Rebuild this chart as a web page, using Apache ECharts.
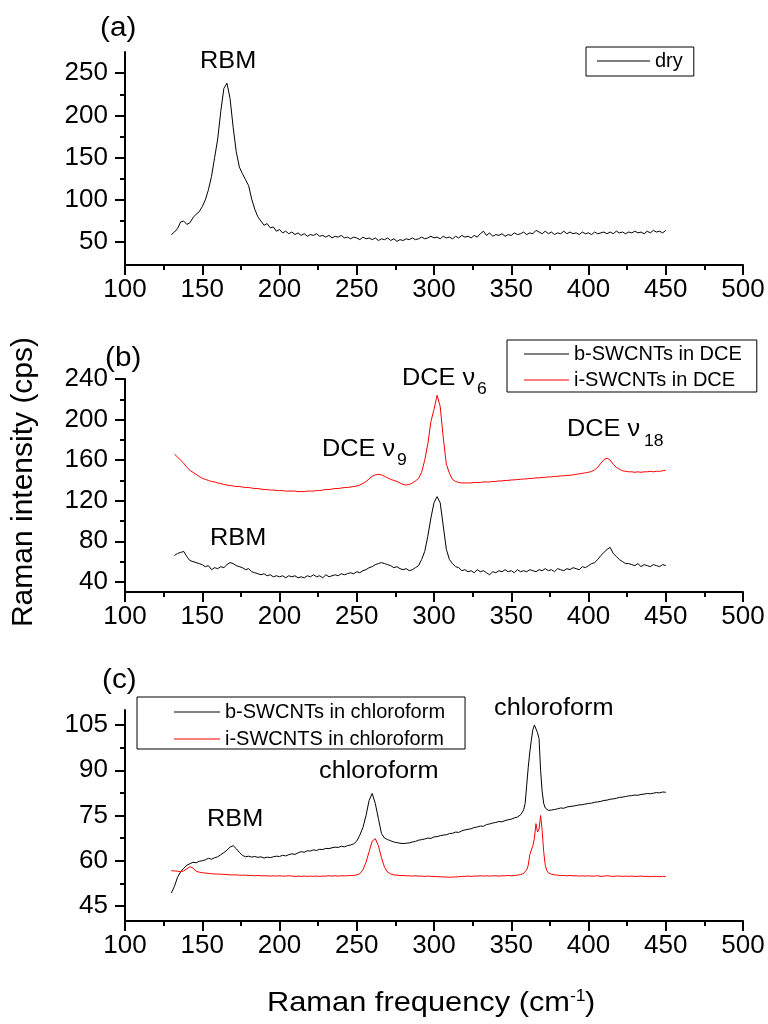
<!DOCTYPE html>
<html><head><meta charset="utf-8">
<script src="https://cdn.jsdelivr.net/npm/echarts@6/dist/echarts.min.js"></script>
<style>html,body{margin:0;padding:0;background:#fff}#chart{width:768px;height:1024px}</style>
</head><body><div id="chart"></div>
<script>
// ---------- DATA ----------
const waveA = [
130,132,134,136,138,140,142,144,146,148,
150,152,154,156,158,160,162,164,166,168,
170,172,174,176,178,180,182,184,186,188,
190,192,194,196,198,200,202,204,206,208,
210,212,214,216,218,220,222,224,226,228,
230,232,234,236,238,240,242,244,246,248,
250,252,254,256,258,260,262,264,266,268,
270,272,274,276,278,280,282,284,286,288,
290,292,294,296,298,300,302,304,306,308,
310,312,314,316,318,320,322,324,326,328,
330,332,334,336,338,340,342,344,346,348,
350,352,354,356,358,360,362,364,366,368,
370,372,374,376,378,380,382,384,386,388,
390,392,394,396,398,400,402,404,406,408,
410,412,414,416,418,420,422,424,426,428,
430,432,434,436,438,440,442,444,446,448,
450];
const dry = [
59,62,66,74,75,71,73,79,83,86,
92,100,112,128,150,172,205,232,238,220,
186,157,139,131,124,117,101,89,80,75,
70,72,67,68,63,65,61,63,60,62,
59,61,58,60,57,59,58,60,57,58,
56,58,55,57,56,58,55,56,54,56,
55,53,56,54,55,53,55,52,54,53,
55,52,54,51,53,52,54,53,55,53,
54,56,54,55,57,55,56,54,57,55,
56,54,57,55,58,56,57,55,58,56,
60,63,58,61,57,59,58,60,57,59,
58,61,59,60,62,59,61,60,64,62,
60,63,60,62,59,61,60,63,60,62,
60,61,59,62,60,61,59,62,60,61,
62,60,62,60,63,61,62,60,62,61,
63,61,62,60,63,61,64,62,63,61,
64];
const bDCE = [
null,66,68,69,70,65,61,60,59,58,
57,55,56,52,54,53,55,54,57,59,
58,56,55,54,52,53,50,49,48,47,
48,46,47,45,46,45,46,44,46,45,
46,44,45,44,46,45,47,45,46,44,
47,45,46,47,46,48,47,48,49,48,
50,49,51,52,54,55,57,58,59,58,
57,56,54,55,53,52,53,51,52,54,
56,62,70,85,103,118,124,118,95,72,
62,58,55,54,51,52,50,51,49,52,
50,51,49,47,50,49,51,50,52,50,
51,49,52,50,51,50,52,51,50,52,
51,53,51,52,50,53,52,51,53,52,
54,53,52,55,54,56,58,59,62,66,
69,72,74,68,65,62,60,58,58,57,
56,58,55,57,56,55,57,56,55,57,
56];
const iDCE = [
null,166,163,160,157,153,150,148,146,144,
142,141,140,139,138.5,137.5,137,136,135.5,135,
134.5,134,134,133.5,133,133,132.5,132,132,131.5,
131,131,130.5,130.5,130,130,130,129.5,129.5,129.5,
129.5,129,129,129,129.5,129.5,129.5,130,130,130.5,
131,131,131.5,132,132,132.5,133,133,133.5,134,
134.5,135.5,137,139,141.5,144,145.5,146,145.5,144,
142.5,141,140,139,137.5,136,135.5,136,137.5,139.5,
142,148,160,176,198,210,224,213,182,156,
147,141,139,138,137.5,137.5,137.5,137.5,138,138,
138,138.5,138.5,138.5,139,139,139.5,139.5,140,140,
140.5,140.5,141,141,141.5,141.5,142,142,142.5,142.5,
143,143,143.5,143.5,144,144,144.5,144.5,145,145,
145.5,146,146.5,147,147.5,148,149,150.5,153,157,
160.5,162,160,156,153,151,149.5,149,148.5,148.5,
148,148.5,148,148.5,148.5,149,148.5,149,149,149.5,
150];
const waveC = [
130,132,134,136,138,140,142,144,146,148,
150,152,154,156,158,160,162,164,166,168,
170,172,174,176,178,180,182,184,186,188,
190,192,194,196,198,200,202,204,206,208,
210,212,214,216,218,220,222,224,226,228,
230,232,234,236,238,240,242,244,246,248,
250,252,254,256,258,260,262,264,266,268,
270,272,274,276,278,280,282,284,286,288,
290,292,294,296,298,300,302,304,306,308,
310,312,314,316,318,320,322,324,326,328,
330,332,334,336,338,340,342,344,346,348,
350,352,354,356,358,
359,360,361,362,363,364,365,366,367,368,369,370,371,372,373,374,375,
376,378,380,382,384,386,388,390,392,394,
396,398,400,402,404,406,408,410,412,414,
416,418,420,422,424,426,428,430,432,434,
436,438,440,442,444,446,448,450];
const bChloro = [
49.3,51.5,54.5,56.3,57.5,58.5,59,59.5,59.3,59.8,
60,60.3,60.8,60.5,61,61.3,62,62.7,63.5,64.5,
65,64,62.8,61.8,61.3,61.5,61.2,61.4,61.1,61.3,
60.9,61.2,61,61.3,61.5,61.4,61.8,61.6,62,62.3,
62.1,62.6,63,62.8,63.3,63.2,63.6,63.4,63.8,63.7,
64.1,64,64.3,64.5,64.4,64.8,64.6,65,65.2,65.6,
66.5,68.5,71,75,80,82.3,79,74,69,67.5,
67,66.6,66.2,66,65.8,65.7,65.8,65.9,66.2,66.4,
66.8,67,67.2,67.5,67.4,67.9,68,68.3,68.5,68.6,
69,69.1,69.5,69.4,69.9,70.2,70.4,70.6,71,71.2,
71.5,71.4,72,72.2,72.5,72.7,73,72.9,73.3,73.6,
73.8,74.2,74.5,75.2,76.8,
79,85,91,96,100,103.5,105,104.5,102.5,100.5,90,83,79,77.5,77,76.7,76.6,
76.8,77,77.2,77.5,77.4,77.8,78,78.1,78.3,78.5,
78.6,78.8,79,79.1,79.4,79.5,79.7,80,80.1,80.4,
80.5,80.7,81,81.1,81.3,81.5,81.6,81.8,81.7,82,
82.1,82.3,82.2,82.4,82.6,82.5,82.8,82.7];
const iChloro = [
56.7,56.6,56.5,56.4,56.6,57.3,58,57.6,56.5,56.2,
56,55.9,55.8,55.7,55.6,55.6,55.5,55.5,55.4,55.3,
55.3,55.3,55.2,55.2,55.2,55.1,55.1,55,55.1,55,
55,55,54.9,55,54.9,55,54.9,54.9,55,54.9,
54.8,54.9,54.8,54.9,54.8,54.9,54.8,54.9,54.8,54.9,
54.9,55,54.9,55,54.9,55,55,55,55.1,55.1,
55.3,55.7,57,59.5,63,66.5,67.3,65,61,57.8,
56.2,55.6,55.3,55.2,55.1,55.1,55,55,54.9,55,
54.9,54.9,54.8,54.9,54.8,54.8,54.7,54.7,54.6,54.6,
54.5,54.6,54.6,54.7,54.8,54.8,54.9,54.8,54.9,54.9,
55,54.9,55,54.9,55,55,54.9,55,55,55.1,
55,55.1,55.2,55.4,55.8,
56.3,57,58.5,62,63.5,65,67.5,72.3,69.5,70.5,75,70,63,58.5,56.8,56,55.7,
55.5,55.3,55.2,55.1,55.1,55,55.1,55,55,54.9,
55,54.9,55,54.9,54.9,55,54.8,54.9,55,54.9,
54.8,54.9,54.9,54.8,54.9,54.8,54.9,54.8,54.8,54.9,
54.8,54.8,54.7,54.8,54.8,54.7,54.8,54.7];

// tick labels
const yTicksA = [50,100,150,200,250];
const yMinorA = [75,125,175,225];
const yTicksB = [40,80,120,160,200,240];
const yMinorB = [60,100,140,180,220];
const yTicksC = [45,60,75,90,105];
const yMinorC = [52.5,67.5,82.5,97.5];

// ---------- helpers ----------
function zip(xs, ys) {
  if (xs.length !== ys.length) throw new Error('length mismatch ' + xs.length + ' vs ' + ys.length);
  return xs.map((x, i) => [x, ys[i]]);
}
const FONT = '"Liberation Sans", Arial, sans-serif';
const BLACK = '#000';
const RED = '#ff0000';
const TICK_FONT = 26;

function xAx(gi) {
  return {type:'value', gridIndex:gi, min:100, max:500, interval:50,
    axisLine:{show:true, onZero:false, lineStyle:{color:BLACK, width:2}},
    axisTick:{show:true, length:10, lineStyle:{color:BLACK, width:2}},
    minorTick:{show:true, splitNumber:2, length:5, lineStyle:{color:BLACK, width:2}},
    axisLabel:{color:BLACK, fontSize:TICK_FONT, fontFamily:FONT, margin:12},
    splitLine:{show:false}, minorSplitLine:{show:false}};
}
function yAx(gi, min, max, ticks) {
  return {type:'value', gridIndex:gi, min:min, max:max, position:'left',
    axisLine:{show:true, onZero:false, lineStyle:{color:BLACK, width:2}},
    axisTick:{show:true, length:10, customValues:ticks, lineStyle:{color:BLACK, width:2}},
    axisLabel:{color:BLACK, fontSize:TICK_FONT, fontFamily:FONT, margin:17, customValues:ticks},
    splitLine:{show:false}};
}
function yMinor(gi, min, max, ticks) {
  return {type:'value', gridIndex:gi, min:min, max:max, position:'left',
    axisLine:{show:false},
    axisTick:{show:true, length:5, customValues:ticks, lineStyle:{color:BLACK, width:2}},
    axisLabel:{show:false}, splitLine:{show:false}};
}
function line(name, xi, yi, data, color) {
  return {type:'line', name:name, xAxisIndex:xi, yAxisIndex:yi, data:data,
    showSymbol:false, symbol:'none', lineStyle:{color:color, width:1},
    itemStyle:{color:color}, animation:false, connectNulls:false};
}
function txt(x, y, text, size, opts) {
  opts = opts || {};
  return {type:'text', x:x, y:y, rotation:opts.rot || 0,
    scaleX:(opts.sx != null ? opts.sx : 1.1), silent:true,
    style:{text:text, fontSize:size, fontFamily:FONT, fill:BLACK,
      align:opts.align || 'left', verticalAlign:'middle'}};
}
function legendBox(names, left, top, padding, itemWidth, gap) {
  return {data:names, left:left, top:top, orient:'vertical', padding:padding,
    icon:'rect', itemWidth:itemWidth, itemHeight:1, itemGap:gap,
    borderColor:BLACK, borderWidth:1, borderRadius:0, selectedMode:false,
    textStyle:{fontSize:20, fontFamily:FONT, color:BLACK, lineHeight:20}};
}

const chart = echarts.init(document.getElementById('chart'), null, {renderer:'canvas'});
chart.setOption({
  backgroundColor:'#fff',
  animation:false,
  grid:[
    {left:125, width:618, top:52, height:213},
    {left:125, width:618, top:379, height:213},
    {left:125, width:618, top:710, height:211}
  ],
  xAxis:[xAx(0), xAx(1), xAx(2)],
  yAxis:[
    yAx(0, 23, 275, yTicksA), yMinor(0, 23, 275, yMinorA),
    yAx(1, 30, 240, yTicksB), yMinor(1, 30, 240, yMinorB),
    yAx(2, 40, 110, yTicksC), yMinor(2, 40, 110, yMinorC)
  ],
  legend:[
    legendBox(['dry'], 586, 47, [4,11,5,11], 53, 6),
    legendBox(['b-SWCNTs in DCE','i-SWCNTs in DCE'], 507, 340, [4,15,2,17], 45, 6),
    legendBox(['b-SWCNTs in chloroform','i-SWCNTS in chloroform'], 137, 697, [5,20,0,37], 46, 7)
  ],
  series:[
    line('dry', 0, 0, zip(waveA, dry), BLACK),
    line('b-SWCNTs in DCE', 1, 2, zip(waveA, bDCE), BLACK),
    line('i-SWCNTs in DCE', 1, 2, zip(waveA, iDCE), RED),
    line('b-SWCNTs in chloroform', 2, 4, zip(waveC, bChloro), BLACK),
    line('i-SWCNTS in chloroform', 2, 4, zip(waveC, iChloro), RED)
  ],
  graphic:[
    txt(100, 28.5, '(a)', 27),
    txt(105, 359, '(b)', 27),
    txt(102, 680.5, '(c)', 27),
    txt(200, 62, 'RBM', 23),
    txt(210, 538.7, 'RBM', 23),
    txt(207, 820, 'RBM', 23),
    txt(322, 449.7, 'DCE \u03bd', 23),
    txt(397, 461, '9', 16),
    txt(402, 379, 'DCE \u03bd', 23),
    txt(477, 390, '6', 16),
    txt(567, 430, 'DCE \u03bd', 23),
    txt(644, 441.5, '18', 16),
    txt(319, 771.5, 'chloroform', 23),
    txt(494, 708.5, 'chloroform', 23),
    txt(24, 482, 'Raman intensity (cps)', 30, {rot:Math.PI/2, align:'center', sx:1}),
    txt(267, 1003, 'Raman frequency (cm', 28),
    txt(570, 996.5, '-1', 16),
    txt(585, 1003, ')', 28)
  ]
});
</script>
</body></html>
